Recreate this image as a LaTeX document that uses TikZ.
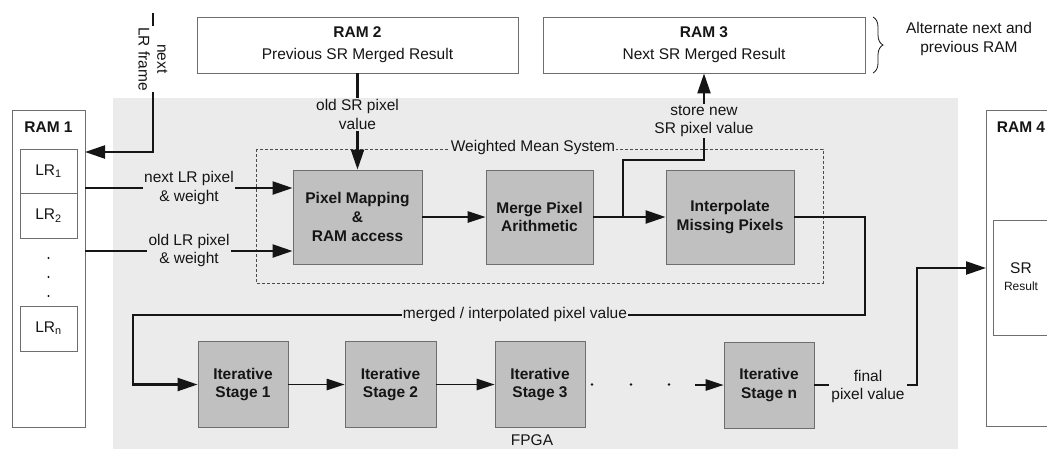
\documentclass[tikz,border=0pt]{standalone}
\usepackage{fontspec}
\setmainfont{Liberation Sans}
\usetikzlibrary{arrows.meta,decorations.pathreplacing}
\definecolor{fpgabg}{HTML}{EBEBEB}
\definecolor{blockfill}{HTML}{C0C0C0}
\definecolor{edgegray}{HTML}{6E6E6E}
\definecolor{ink}{HTML}{151515}
\tikzset{
  basefont/.style={font=\fontsize{15.5}{18.8}\selectfont},
  ram/.style={draw=edgegray, fill=white, line width=0.9pt, inner sep=0pt, align=center},
  block/.style={draw=edgegray, fill=blockfill, line width=0.9pt, align=center, inner sep=0pt,
    font=\fontsize{15.5}{18.8}\selectfont\bfseries},
  title/.style={font=\fontsize{15.5}{18.8}\selectfont\bfseries},
  lbl/.style={fill=fpgabg, inner sep=1.5pt, align=center},
  wire/.style={draw=ink, line width=2.3pt},
  bigarrow/.style={wire, -{Triangle[length=20pt,width=13pt]}},
  thinarrow/.style={draw=ink, line width=1.1pt, -{Triangle[length=18pt,width=11.5pt]}},
  wms/.style={draw=black!70, dash pattern=on 3pt off 2pt, line width=0.8pt},
}
\begin{document}
\begin{tikzpicture}[x=1pt,y=-1pt,every node/.append style={basefont, text=ink}]
\useasboundingbox (0,0) rectangle (1047,448);

% FPGA area
\fill[fpgabg] (113,98) rectangle (958,470);
\node[anchor=base, inner sep=0pt] (fpgat) at (532,445) {FPGA};

% Weighted mean system frame
\draw[wms] (256,149) rectangle (823,283);

% external memories
\node[ram, minimum width=73, minimum height=317] (ram1) at (48.5,268.5) {};
\node[title] (ram1t) at (48.5,127) {RAM 1};
\node[ram, minimum width=57, minimum height=44] (lr1) at (48.5,171) {LR\textsubscript{1}};
\node[ram, minimum width=57, minimum height=45] (lr2) at (48.5,215.5) {LR\textsubscript{2}};
\node[ram, minimum width=57, minimum height=45] (lrn) at (48.5,328.5) {LR\textsubscript{n}};
\foreach \yy in {258,277,296} \fill[ink] (48.5,\yy) circle (1.1);

\node[ram, minimum width=321, minimum height=56] (ram2) at (357.5,45)
  {\textbf{RAM 2}\\[3pt]Previous SR Merged Result};
\node[ram, minimum width=322, minimum height=56] (ram3) at (704,45)
  {\textbf{RAM 3}\\[3pt]Next SR Merged Result};
\draw[ink, line width=0.8pt, decorate, decoration={brace, amplitude=10pt}] (873,17) -- (873,73);
\node[align=center] (alt) at (969,39) {Alternate next and\\previous RAM};

\node[ram, minimum width=80, minimum height=316, anchor=north west] (ram4) at (986,110) {};
\node[title] (ram4t) at (1021,127) {RAM 4};
\node[ram, minimum width=70, minimum height=115, anchor=north west] (srbox) at (993,220) {};
\node (srt) at (1021,268) {SR};
\node[font=\fontsize{12}{14}\selectfont] (srr) at (1021,286) {Result};

% processing blocks
\node[block, minimum width=129, minimum height=94] (pm) at (357.5,217) {Pixel Mapping\\\&\\RAM access};
\node[block, minimum width=107, minimum height=94] (merge) at (539.5,217) {Merge Pixel\\Arithmetic};
\node[block, minimum width=128, minimum height=94] (interp) at (730,217) {Interpolate\\Missing Pixels};

\node[block, minimum width=90, minimum height=86] (st1) at (243,384.5) {Iterative\\Stage 1};
\node[block, minimum width=91, minimum height=86] (st2) at (390.5,384.5) {Iterative\\Stage 2};
\node[block, minimum width=90, minimum height=86] (st3) at (540,384.5) {Iterative\\Stage 3};
\node[block, minimum width=90, minimum height=86] (stn) at (769,385) {Iterative\\Stage n};
\foreach \xx in {592,631,669} \fill[ink] (\xx,384.5) circle (1.3);

% connectors
\coordinate (nlf) at (153,13);
\coordinate (r1in) at (85,152);
\draw[bigarrow] (nlf) |- (r1in);

\coordinate (r1a) at (85,188);
\coordinate (r1b) at (85,251);
\draw[bigarrow] (r1a) -- (r1a -| pm.west);
\draw[bigarrow] (r1b) -- (r1b -| pm.west);

\draw[bigarrow] (ram2.south) -- (pm.north);
\draw[thinarrow] (pm.east) -- (merge.west);
\draw[bigarrow] (merge.east) -- (interp.west);

\coordinate (br) at (623,217);
\coordinate (sb) at (704,160);
\draw[bigarrow] (br) |- (sb) -- (ram3.south);

\coordinate (fb1) at (865,315);
\coordinate (fb2) at (133,315);
\draw[bigarrow] (interp.east) -| (fb1) -- (fb2) |- (st1.west);

\draw[thinarrow] (st1.east) -- (st2.west);
\draw[thinarrow] (st2.east) -- (st3.west);
\coordinate (dn) at (695,385);
\draw[thinarrow] (dn) -- (stn.west);

\coordinate (fp1) at (917,385);
\coordinate (r4in) at (986,268);
\draw[bigarrow] (stn.east) -- (fp1) |- (r4in);

% connector labels
\node[fill=white, inner sep=1pt, rotate=-90, align=center] (nlft) at (153,59) {next\\LR frame};
\node[lbl] (nxl) at (189,188) {next LR pixel\\\& weight};
\node[lbl] (oll) at (189,250.5) {old LR pixel\\\& weight};
\node[lbl, inner sep=1pt] (osr) at (357.5,114.5) {old SR pixel\\value};
\node[lbl, inner sep=1pt] (snl) at (704,121) {store new\\SR pixel value};
\node[lbl, inner sep=1pt, anchor=base] (wmsl) at (533,151) {Weighted Mean System};
\node[lbl, inner sep=1pt] (mil) at (515,314) {merged / interpolated pixel value};
\node[lbl, inner sep=2pt] (fpl) at (868,386.5) {final\\pixel value};
\end{tikzpicture}
\end{document}
